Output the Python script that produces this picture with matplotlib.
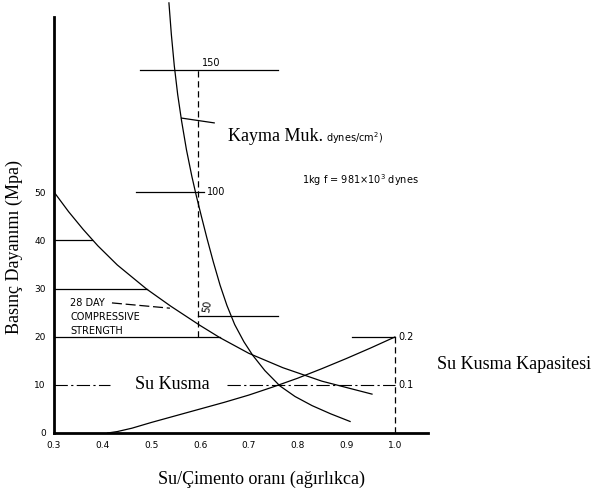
import matplotlib.pyplot as plt

# values (x = water/cement ratio, y = strength MPa)
strength_x = [0.30, 0.33, 0.36, 0.39, 0.43, 0.49, 0.54, 0.60, 0.64, 0.70,
              0.77, 0.85, 0.953]
strength_y = [50.2, 46.1, 42.4, 39.0, 35.0, 30.0, 26.4, 22.4, 19.9, 16.6,
              13.6, 10.8, 8.1]

shear_x = [0.536, 0.541, 0.547, 0.554, 0.562, 0.572, 0.583, 0.592, 0.603, 0.614,
           0.627, 0.641, 0.655, 0.671, 0.690, 0.708, 0.733, 0.764, 0.795, 0.830,
           0.868, 0.908]
shear_y = [89.6, 83.0, 76.5, 70.5, 65.0, 59.0, 53.5, 49.5, 45.0, 40.6,
           35.7, 30.8, 26.6, 22.6, 19.0, 16.2, 13.0, 9.8, 7.6, 5.7,
           4.0, 2.4]

bleed_x = [0.41, 0.43, 0.46, 0.50, 0.55, 0.60, 0.65, 0.70, 0.75, 0.80, 0.85, 0.90,
           0.95, 1.00]
bleed_y = [0.0, 0.3, 1.0, 2.2, 3.6, 5.0, 6.4, 7.9, 9.6, 11.4, 13.4, 15.5,
           17.7, 20.0]

x_ticks = [0.3, 0.4, 0.5, 0.6, 0.7, 0.8, 0.9, 1.0]
x_labels = ["0.3", "0.4", "0.5", "0.6", "0.7", "0.8", "0.9", "1.0"]
y_ticks = [0, 10, 20, 30, 40, 50]
y_labels = ["0", "10", "20", "30", "40", "50"]

# shear scale (dynes/cm2) drawn on the strength axis
shear_ticks = [50, 100, 150]
shear_pos = [24.4, 50.2, 75.6]
# bleeding capacity scale
bleed_ticks = ["0.1", "0.2"]
bleed_pos = [10, 20]

serif = "Liberation Serif"
big = 13
small = dict(family="DejaVu Sans", fontsize=7)

fig = plt.figure(figsize=(5.91, 4.93), dpi=100)
ax = fig.add_axes([54 / 591, 60 / 493, 374 / 591, 433 / 493])
ax.set_xlim(0.3, 1.068)
ax.set_ylim(0, 90.2)

for s in ["top", "right"]:
    ax.spines[s].set_visible(False)
ax.spines["left"].set_linewidth(2)
ax.spines["bottom"].set_linewidth(2)
ax.spines["left"].set_bounds(0, 86.7)
ax.tick_params(length=0, pad=6)
ax.set_xticks(x_ticks, x_labels, family="DejaVu Sans", fontsize=6.5)
ax.set_yticks(y_ticks, y_labels, family="DejaVu Sans", fontsize=6.5)

lk = dict(color="black", lw=0.9)
ax.plot(strength_x, strength_y, **lk)
ax.plot(shear_x, shear_y, **lk)
ax.plot(bleed_x, bleed_y, **lk)

# reading lines from the strength axis
ax.plot([0.3, 0.378], [40.2, 40.2], **lk)
ax.plot([0.3, 0.49], [30, 30], **lk)
ax.plot([0.3, 0.641], [20, 20], **lk)

# dash-dot bleeding line, broken by the label
dd = dict(color="black", lw=0.8, ls=(0, (12, 3, 2, 3)))
ax.plot([0.3, 0.415], [10, 10], **dd)
ax.plot([0.655, 1.0], [10, 10], **dd)
ax.text(0.542, 10, "Su Kusma", family=serif, fontsize=big, ha="center", va="center")

# shear strength scale
dash = dict(color="black", lw=0.9, ls=(0, (5, 3)))
ax.plot([0.596, 0.596], [20, shear_pos[2]], **dash)
ax.plot([0.476, 0.761], [shear_pos[2]] * 2, **lk)
ax.plot([0.469, 0.608], [shear_pos[1]] * 2, **lk)
ax.plot([0.596, 0.761], [shear_pos[0]] * 2, **lk)
ax.plot([0.562, 0.629], [65.6, 64.6], **lk)
ax.text(0.604, shear_pos[2] + 0.4, str(shear_ticks[2]), va="bottom", ha="left", **small)
ax.text(0.614, shear_pos[1], str(shear_ticks[1]), va="center", ha="left", **small)
ax.text(0.603, shear_pos[0] + 0.5, str(shear_ticks[0]), va="bottom", ha="left",
        rotation=80, **small)
ax.text(0.657, 61.7, "Kayma Muk.", family=serif, fontsize=big, ha="left", va="center")
ax.text(0.858, 61.5, "dynes/cm$^2$)", ha="left", va="center", **small)
ax.text(0.809, 52.7, "1kg f = 981×10$^3$ dynes", ha="left", va="center", **small)

# 28 day compressive strength note
ax.text(0.333, 28.1, "28 DAY\nCOMPRESSIVE\nSTRENGTH", ha="left", va="top",
        linespacing=1.5, **small)
ax.plot([0.419, 0.538], [27.1, 26.0], color="black", lw=0.9, ls=(0, (8, 3)))

# bleeding capacity scale
ax.plot([1.0, 1.0], [0, 20], **dash)
ax.plot([0.912, 1.0], [20, 20], **lk)
for lab, p in zip(bleed_ticks, bleed_pos):
    ax.text(1.008, p, lab, ha="left", va="center", **small)
ax.text(1.086, 14.2, "Su Kusma Kapasitesi", family=serif, fontsize=big,
        ha="left", va="center", clip_on=False)

ax.set_xlabel("Su/Çimento oranı (ağırlıkca)", family=serif, fontsize=big)
ax.xaxis.set_label_coords(0.556, -0.088)
ax.set_ylabel("Basınç Dayanımı (Mpa)", family=serif, fontsize=big)
ax.yaxis.set_label_coords(-0.083, 0.43)

fig.savefig("out.png", dpi=100)
